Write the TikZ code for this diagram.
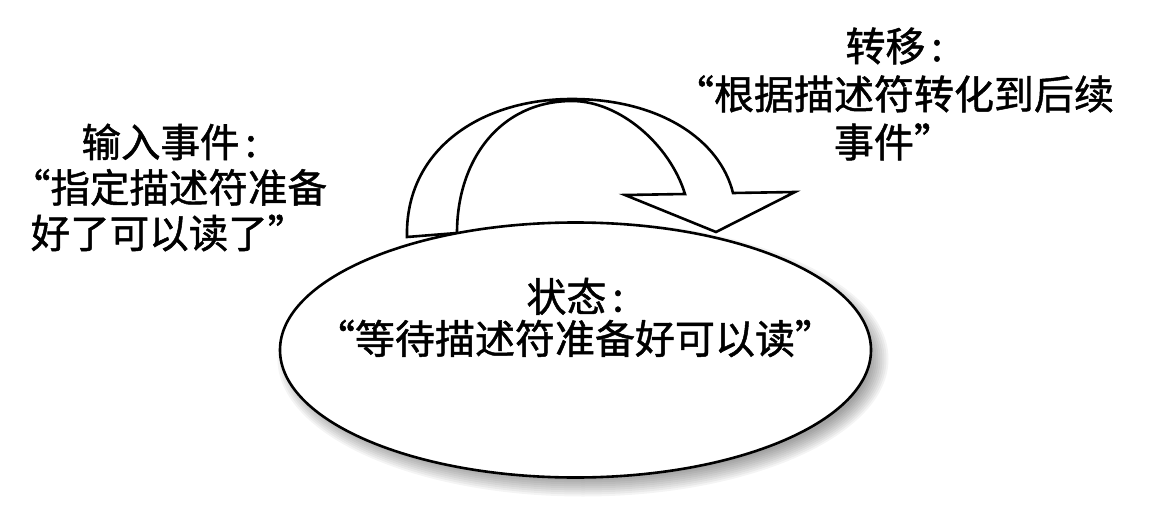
\documentclass[tikz,border=0pt]{standalone}
\usepackage{fontspec}
\setmainfont{Noto Sans CJK SC}[FakeBold=1.2,AutoFakeBold=1.2]
\usetikzlibrary{shapes.geometric}
\begin{document}
\begin{tikzpicture}[x=1pt,y=-1pt]
\tikzset{
  outline/.style={draw=black, line width=2.6pt, fill=white, line join=miter},
  lbl/.style={align=center, inner sep=0pt, text=black},
}
\useasboundingbox (0,0) rectangle (1164,524);
% soft shadow of the state ellipse
\foreach \i in {1,...,10}
  \fill[black, opacity=0.045] (583,359) ellipse ({285.5+2*\i} and {117.5+2*\i});
% curved transition arrow
\draw[outline]
  (407,237) .. controls (405,150) and (480,99) .. (572,99)
            .. controls (660,99) and (720,140) .. (733,193)
  -- (795,192) -- (716,232) -- (625,195) -- (685,194)
            .. controls (670,145) and (620,101) .. (572,101)
            .. controls (500,101) and (457,160) .. (457,233)
  -- cycle;
% state ellipse
\node[outline, ellipse, minimum width=591pt, minimum height=255pt, inner sep=0pt] (state) at (575.5,350) {};
\node[lbl, font=\fontsize{40}{42}\selectfont] (statetext) at (575,317.5)
  {状态\hspace{0.15em}:\\“等待描述符准备好可以读”};
% input event label
\node[lbl, font=\fontsize{39.5}{45.5}\selectfont] (input) at (169,187.5)
  {输入事件\hspace{0.15em}:\\“指定描述符准备\\好了可以读了”};
% transition label
\node[lbl, font=\fontsize{40}{48}\selectfont] (trans) at (894,94)
  {转移\hspace{0.15em}:\\“根据描述符转化到后续\\事件”};
\end{tikzpicture}
\end{document}
